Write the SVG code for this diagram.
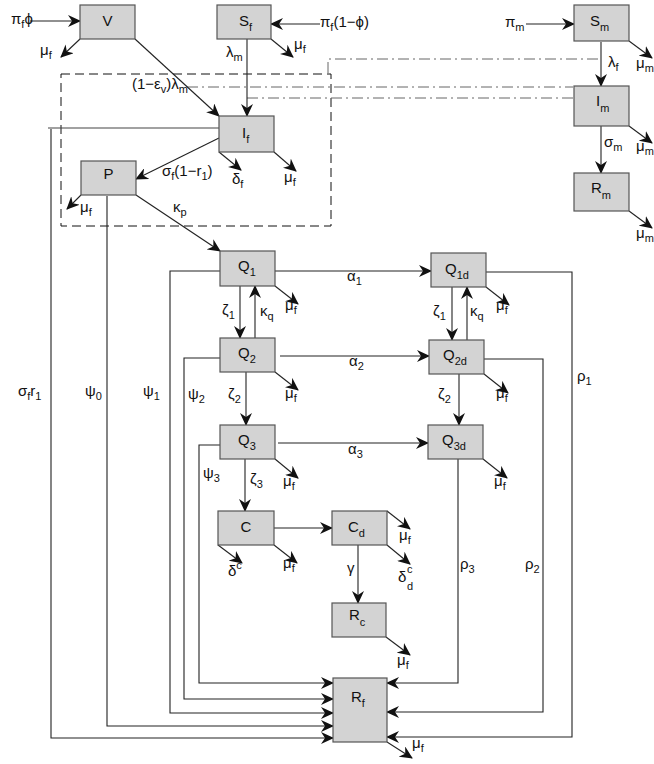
<svg xmlns="http://www.w3.org/2000/svg" width="654" height="764" viewBox="0 0 654 764">
<defs>
<marker id="ah" markerUnits="userSpaceOnUse" markerWidth="14" markerHeight="12" refX="12" refY="6" orient="auto">
<path d="M0,0 L13,6 L0,12 L4,6 z" fill="#111"/>
</marker>
<style>
.box{fill:#d3d3d3;stroke:#555;stroke-width:1.2}
.nl{font-family:"Liberation Sans",Arial,sans-serif;font-size:15px;fill:#111}
.el{font-family:"Liberation Sans",Arial,sans-serif;font-size:15px;fill:#111}
.s{font-size:11px}
.a{fill:none;stroke:#222;stroke-width:1.1;marker-end:url(#ah)}
.l{fill:none;stroke:#444;stroke-width:1.1}
.dash{fill:none;stroke:#111;stroke-width:1;stroke-dasharray:9,5}
.dd{fill:none;stroke:#666;stroke-width:1;stroke-dasharray:11,4,2,4}
</style>
</defs>
<rect width="654" height="764" fill="#fff"/>

<g id="groups">
<path class="dash" d="M61,74 H331 V226 H61 Z"/>
<path class="dd" d="M598,59 H328 V74"/>
<path class="dd" d="M187,87 H573"/>
<path class="dd" d="M247,98 H573"/>
</g>

<g id="connectors">
<path class="a" d="M30,21 H80"/>
<path class="a" d="M80,39 L61,57"/>
<path class="a" d="M135,39 L219,116"/>
<path class="a" d="M320,24 H271"/>
<path class="a" d="M271,39 L293,57"/>
<path class="a" d="M247,39 V116"/>
<path class="a" d="M219,152 L241,170"/>
<path class="a" d="M274,152 L296,171"/>
<path class="a" d="M219,138 L136,179"/>
<path class="a" d="M81,195 L67,209"/>
<path class="a" d="M136,195 L220,251"/>
<path class="a" d="M526,24 H574"/>
<path class="a" d="M629,41 L652,58"/>
<path class="a" d="M601,42 V86"/>
<path class="a" d="M629,126 L652,143"/>
<path class="a" d="M601,126 V173"/>
<path class="a" d="M629,211 L652,228"/>
<path class="a" d="M275,271 H431"/>
<path class="a" d="M275,286 L298,304"/>
<path class="a" d="M240,286 V338"/>
<path class="a" d="M255,338 V286"/>
<path class="a" d="M280,356 H429"/>
<path class="a" d="M275,372 L298,390"/>
<path class="a" d="M246,372 V425"/>
<path class="a" d="M278,443 H428"/>
<path class="a" d="M275,459 L298,478"/>
<path class="a" d="M245,459 V511"/>
<path class="a" d="M274,528 H332"/>
<path class="a" d="M218,545 L242,563"/>
<path class="a" d="M274,545 L297,563"/>
<path class="a" d="M387,511 L410,529"/>
<path class="a" d="M387,545 L410,564"/>
<path class="a" d="M358,545 V603"/>
<path class="a" d="M386,637 L410,655"/>
<path class="a" d="M387,742 L412,758"/>
<path class="a" d="M486,287 L509,305"/>
<path class="a" d="M452,287 V340"/>
<path class="a" d="M467,340 V287"/>
<path class="a" d="M484,374 L508,393"/>
<path class="a" d="M459,374 V425"/>
<path class="a" d="M483,459 L507,478"/>
<path class="l" d="M219,128 H48"/>
<path class="a" d="M51,129 V738 H333"/>
<path class="a" d="M107,196 V726 H333"/>
<path class="a" d="M220,271 H170 V713 H333"/>
<path class="a" d="M220,358 H184 V699 H333"/>
<path class="a" d="M220,445 H199 V683 H333"/>
<path class="a" d="M486,272 H572 V737 H387"/>
<path class="a" d="M484,359 H543 V712 H387"/>
<path class="a" d="M458,459 V683 H387"/>
</g>

<g id="V"><rect class="box" x="80" y="5" width="55" height="34"/><text class="nl" x="107.5" y="26" text-anchor="middle">V</text></g>
<g id="Sf"><rect class="box" x="217" y="5" width="54" height="34"/><text class="nl" x="239" y="26">S<tspan class="s" dy="5">f</tspan></text></g>
<g id="If"><rect class="box" x="219" y="116" width="55" height="36"/><text class="nl" x="242" y="138">I<tspan class="s" dy="5">f</tspan></text></g>
<g id="P"><rect class="box" x="81" y="161" width="55" height="34"/><text class="nl" x="108.5" y="179" text-anchor="middle">P</text></g>
<g id="Sm"><rect class="box" x="574" y="5" width="55" height="36"/><text class="nl" x="590" y="26">S<tspan class="s" dy="5">m</tspan></text></g>
<g id="Im"><rect class="box" x="574" y="86" width="55" height="40"/><text class="nl" x="596" y="106">I<tspan class="s" dy="6">m</tspan></text></g>
<g id="Rm"><rect class="box" x="574" y="173" width="55" height="38"/><text class="nl" x="591" y="193">R<tspan class="s" dy="6">m</tspan></text></g>
<g id="Q1"><rect class="box" x="220" y="251" width="55" height="35"/><text class="nl" x="238" y="271">Q<tspan class="s" dy="5">1</tspan></text></g>
<g id="Q2"><rect class="box" x="220" y="338" width="55" height="34"/><text class="nl" x="238" y="358">Q<tspan class="s" dy="5">2</tspan></text></g>
<g id="Q3"><rect class="box" x="220" y="425" width="55" height="34"/><text class="nl" x="238" y="445">Q<tspan class="s" dy="5">3</tspan></text></g>
<g id="Q1d"><rect class="box" x="431" y="253" width="55" height="34"/><text class="nl" x="445" y="274">Q<tspan class="s" dy="5">1d</tspan></text></g>
<g id="Q2d"><rect class="box" x="429" y="340" width="55" height="34"/><text class="nl" x="443" y="360">Q<tspan class="s" dy="5">2d</tspan></text></g>
<g id="Q3d"><rect class="box" x="428" y="425" width="55" height="34"/><text class="nl" x="442" y="445">Q<tspan class="s" dy="5">3d</tspan></text></g>
<g id="C"><rect class="box" x="218" y="511" width="56" height="34"/><text class="nl" x="246" y="532" text-anchor="middle">C</text></g>
<g id="Cd"><rect class="box" x="332" y="511" width="55" height="34"/><text class="nl" x="348" y="532">C<tspan class="s" dy="5">d</tspan></text></g>
<g id="Rc"><rect class="box" x="332" y="603" width="54" height="34"/><text class="nl" x="349" y="620">R<tspan class="s" dy="6">c</tspan></text></g>
<g id="Rf"><rect class="box" x="333" y="678" width="54" height="64"/><text class="nl" x="351" y="702">R<tspan class="s" dy="5">f</tspan></text></g>

<g id="labels" class="el">
<text x="11" y="24">π<tspan class="s" dy="4">f</tspan><tspan dy="-4">ϕ</tspan></text>
<text x="40" y="55">μ<tspan class="s" dy="4">f</tspan></text>
<text x="132" y="89">(1−ε<tspan class="s" dy="4">v</tspan><tspan dy="-4">)λ</tspan><tspan class="s" dy="4">m</tspan></text>
<text x="226" y="57">λ<tspan class="s" dy="4">m</tspan></text>
<text x="320" y="27">π<tspan class="s" dy="4">f</tspan><tspan dy="-4">(1−ϕ)</tspan></text>
<text x="294" y="49">μ<tspan class="s" dy="4">f</tspan></text>
<text x="232" y="184">δ<tspan class="s" dy="4">f</tspan></text>
<text x="284" y="182">μ<tspan class="s" dy="4">f</tspan></text>
<text x="162" y="176">σ<tspan class="s" dy="4">f</tspan><tspan dy="-4">(1−r</tspan><tspan class="s" dy="4">1</tspan><tspan dy="-4">)</tspan></text>
<text x="80" y="212">μ<tspan class="s" dy="4">f</tspan></text>
<text x="173" y="212">κ<tspan class="s" dy="4">p</tspan></text>
<text x="505" y="27">π<tspan class="s" dy="4">m</tspan></text>
<text x="636" y="68">μ<tspan class="s" dy="4">m</tspan></text>
<text x="608" y="67">λ<tspan class="s" dy="4">f</tspan></text>
<text x="636" y="151">μ<tspan class="s" dy="4">m</tspan></text>
<text x="604" y="147">σ<tspan class="s" dy="4">m</tspan></text>
<text x="636" y="238">μ<tspan class="s" dy="4">m</tspan></text>
<text x="347" y="281">α<tspan class="s" dy="4">1</tspan></text>
<text x="349" y="366">α<tspan class="s" dy="4">2</tspan></text>
<text x="348" y="454">α<tspan class="s" dy="4">3</tspan></text>
<text x="222" y="315">ζ<tspan class="s" dy="4">1</tspan></text>
<text x="260" y="316">κ<tspan class="s" dy="4">q</tspan></text>
<text x="285" y="310">μ<tspan class="s" dy="4">f</tspan></text>
<text x="228" y="399">ζ<tspan class="s" dy="4">2</tspan></text>
<text x="285" y="398">μ<tspan class="s" dy="4">f</tspan></text>
<text x="203" y="478">ψ<tspan class="s" dy="4">3</tspan></text>
<text x="250" y="484">ζ<tspan class="s" dy="4">3</tspan></text>
<text x="283" y="486">μ<tspan class="s" dy="4">f</tspan></text>
<text x="433" y="316">ζ<tspan class="s" dy="4">1</tspan></text>
<text x="470" y="316">κ<tspan class="s" dy="4">q</tspan></text>
<text x="496" y="310">μ<tspan class="s" dy="4">f</tspan></text>
<text x="438" y="399">ζ<tspan class="s" dy="4">2</tspan></text>
<text x="496" y="398">μ<tspan class="s" dy="4">f</tspan></text>
<text x="494" y="486">μ<tspan class="s" dy="4">f</tspan></text>
<text x="577" y="381">ρ<tspan class="s" dy="4">1</tspan></text>
<text x="18" y="396">σ<tspan class="s" dy="4">f</tspan><tspan dy="-4">r</tspan><tspan class="s" dy="4">1</tspan></text>
<text x="85" y="396">ψ<tspan class="s" dy="4">0</tspan></text>
<text x="143" y="396">ψ<tspan class="s" dy="4">1</tspan></text>
<text x="188" y="399">ψ<tspan class="s" dy="4">2</tspan></text>
<text x="460" y="569">ρ<tspan class="s" dy="4">3</tspan></text>
<text x="525" y="569">ρ<tspan class="s" dy="4">2</tspan></text>
<text x="228" y="576">δ<tspan class="s" dy="-7">c</tspan></text>
<text x="283" y="568">μ<tspan class="s" dy="4">f</tspan></text>
<text x="399" y="540">μ<tspan class="s" dy="4">f</tspan></text>
<text x="347" y="573">γ</text>
<text x="398" y="582">δ</text>
<text class="s" x="407" y="573">c</text>
<text class="s" x="407" y="590">d</text>
<text x="397" y="665">μ<tspan class="s" dy="4">f</tspan></text>
<text x="412" y="748">μ<tspan class="s" dy="4">f</tspan></text>
</g>
</svg>
